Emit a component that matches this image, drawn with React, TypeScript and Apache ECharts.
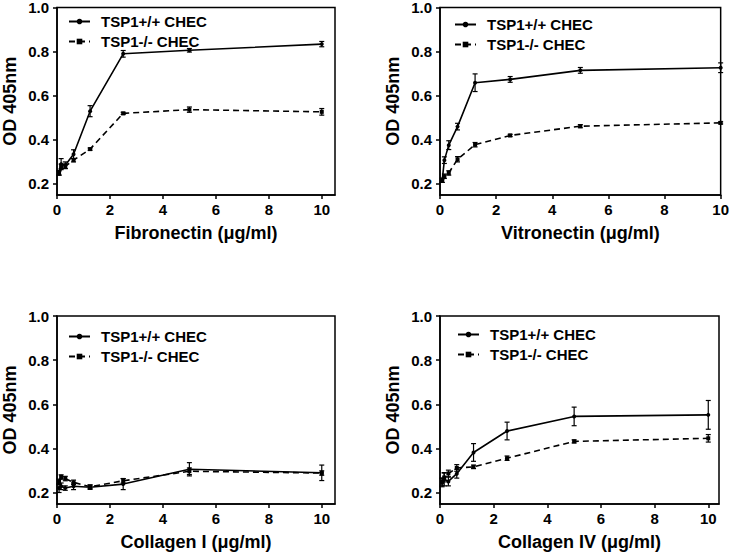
import React, { useEffect, useRef } from 'react';
import * as echarts from 'echarts';

const conc = [0.078, 0.156, 0.3125, 0.625, 1.25, 2.5, 5, 10];
const seriesNames = ['TSP1+/+ CHEC', 'TSP1-/- CHEC'];
const yTicks = [0.2, 0.4, 0.6, 0.8, 1.0];
const xTicks = [0, 2, 4, 6, 8, 10];
const xTitles = ['Fibronectin (μg/ml)', 'Vitronectin (μg/ml)', 'Collagen I (μg/ml)', 'Collagen IV (μg/ml)'];
const yTitle = 'OD 405nm';

const fnWT = [0.25, 0.29, 0.285, 0.335, 0.53, 0.79, 0.806, 0.834];
const fnWTErr = [0.01, 0.025, 0.015, 0.02, 0.025, 0.015, 0.008, 0.012];
const fnKO = [0.25, 0.28, 0.28, 0.308, 0.358, 0.52, 0.537, 0.527];
const fnKOErr = [0.01, 0.01, 0.01, 0.008, 0.005, 0.005, 0.012, 0.015];

const vnWT = [0.217, 0.308, 0.376, 0.46, 0.659, 0.674, 0.715, 0.727];
const vnWTErr = [0.01, 0.015, 0.02, 0.015, 0.04, 0.013, 0.013, 0.022];
const vnKO = [0.215, 0.235, 0.25, 0.312, 0.378, 0.42, 0.462, 0.477];
const vnKOErr = [0.008, 0.01, 0.01, 0.012, 0.01, 0.005, 0.007, 0.005];

const c1WT = [0.222, 0.23, 0.222, 0.23, 0.226, 0.24, 0.307, 0.291];
const c1WTErr = [0.02, 0.015, 0.01, 0.015, 0.01, 0.025, 0.03, 0.035];
const c1KO = [0.25, 0.272, 0.265, 0.248, 0.228, 0.255, 0.298, 0.29];
const c1KOErr = [0.012, 0.01, 0.01, 0.01, 0.008, 0.01, 0.015, 0.01];

const c4WT = [0.248, 0.262, 0.252, 0.287, 0.383, 0.48, 0.546, 0.553];
const c4WTErr = [0.02, 0.03, 0.02, 0.02, 0.04, 0.04, 0.042, 0.065];
const c4KO = [0.25, 0.27, 0.288, 0.313, 0.318, 0.357, 0.433, 0.447];
const c4KOErr = [0.015, 0.02, 0.015, 0.015, 0.008, 0.01, 0.007, 0.017];

const panelData = [
  { wt: fnWT, wtErr: fnWTErr, ko: fnKO, koErr: fnKOErr },
  { wt: vnWT, wtErr: vnWTErr, ko: vnKO, koErr: vnKOErr },
  { wt: c1WT, wtErr: c1WTErr, ko: c1KO, koErr: c1KOErr },
  { wt: c4WT, wtErr: c4WTErr, ko: c4KO, koErr: c4KOErr },
];

const layout = [
  { left: 54, top: 7, width: 281, height: 188, xMax: 10.5, legLeft: 68, legTop: 14 },
  { left: 440, top: 7, width: 281, height: 188, xMax: 10, legLeft: 454, legTop: 17 },
  { left: 54, top: 316, width: 281, height: 188, xMax: 10.5, legLeft: 68, legTop: 329 },
  { left: 440, top: 316, width: 279, height: 188, xMax: 10.4, legLeft: 457, legTop: 327 },
];

const FONT = '"Liberation Sans", Arial, Helvetica, sans-serif';

function errRender(params: any, api: any) {
  const x = api.value(0);
  const lo = api.coord([x, api.value(1)]);
  const hi = api.coord([x, api.value(2)]);
  const w = 2.5;
  const style = { stroke: '#000', lineWidth: 1.2 };
  return {
    type: 'group',
    children: [
      { type: 'line', shape: { x1: lo[0], y1: lo[1], x2: hi[0], y2: hi[1] }, style },
      { type: 'line', shape: { x1: lo[0] - w, y1: lo[1], x2: lo[0] + w, y2: lo[1] }, style },
      { type: 'line', shape: { x1: hi[0] - w, y1: hi[1], x2: hi[0] + w, y2: hi[1] }, style },
    ],
  };
}

export default function App() {
  const ref = useRef<HTMLDivElement>(null);
  useEffect(() => {
    if (!ref.current) return;
    const chart = echarts.init(ref.current, undefined, { renderer: 'svg' });
    const grid: any[] = [];
    const xAxis: any[] = [];
    const yAxis: any[] = [];
    const legend: any[] = [];
    const series: any[] = [];
    layout.forEach((L, i) => {
      grid.push({
        left: L.left, top: L.top, width: L.width, height: L.height,
        show: true, borderColor: '#000', borderWidth: 1.5, backgroundColor: 'transparent',
      });
      xAxis.push({
        type: 'value', gridIndex: i, min: 0, max: L.xMax,
        name: xTitles[i], nameLocation: 'middle', nameGap: 29,
        nameTextStyle: { fontSize: 18, fontWeight: 'bold', color: '#000', fontFamily: FONT },
        axisLine: { show: true, lineStyle: { color: '#000', width: 1.5 } },
        axisTick: { show: true, length: 4, customValues: xTicks, lineStyle: { color: '#000', width: 1.5 } },
        axisLabel: { customValues: xTicks, margin: 7, fontSize: 15, fontWeight: 'bold', color: '#000', fontFamily: FONT },
        splitLine: { show: false },
      });
      yAxis.push({
        type: 'value', gridIndex: i, min: 0.15, max: 1.0,
        name: yTitle, nameLocation: 'middle', nameGap: 38,
        nameTextStyle: { fontSize: 18, fontWeight: 'bold', color: '#000', fontFamily: FONT },
        axisLine: { show: true, lineStyle: { color: '#000', width: 1.5 } },
        axisTick: { show: true, length: 4, customValues: yTicks, lineStyle: { color: '#000', width: 1.5 } },
        axisLabel: {
          customValues: yTicks, margin: 8, fontSize: 15, fontWeight: 'bold', color: '#000', fontFamily: FONT,
          formatter: (v: number) => v.toFixed(1),
        },
        splitLine: { show: false },
      });
      legend.push({
        left: L.legLeft, top: L.legTop, orient: 'vertical', data: seriesNames, padding: 0,
        itemWidth: 21, itemHeight: 7, itemGap: 5,
        textStyle: { fontSize: 15, fontWeight: 'bold', color: '#000', fontFamily: FONT, padding: [0, 0, 0, 6] },
      });
      const d = panelData[i];
      series.push({
        name: seriesNames[0], type: 'line', xAxisIndex: i, yAxisIndex: i,
        data: conc.map((c, k) => [c, d.wt[k]]),
        symbol: 'circle', symbolSize: 4, showSymbol: true,
        lineStyle: { color: '#000', width: 1.6 }, itemStyle: { color: '#000' }, z: 3,
      });
      series.push({
        name: seriesNames[1], type: 'line', xAxisIndex: i, yAxisIndex: i,
        data: conc.map((c, k) => [c, d.ko[k]]),
        symbol: 'rect', symbolSize: 4, showSymbol: true,
        lineStyle: { color: '#000', width: 1.6, type: [6, 4] }, itemStyle: { color: '#000' }, z: 3,
      });
      series.push({
        name: 'err-wt-' + i, type: 'custom', xAxisIndex: i, yAxisIndex: i,
        renderItem: errRender, encode: { x: 0, y: [1, 2] },
        data: conc.map((c, k) => [c, d.wt[k] - d.wtErr[k], d.wt[k] + d.wtErr[k]]), z: 4,
      });
      series.push({
        name: 'err-ko-' + i, type: 'custom', xAxisIndex: i, yAxisIndex: i,
        renderItem: errRender, encode: { x: 0, y: [1, 2] },
        data: conc.map((c, k) => [c, d.ko[k] - d.koErr[k], d.ko[k] + d.koErr[k]]), z: 4,
      });
    });
    chart.setOption({
      animation: false,
      backgroundColor: '#fff',
      textStyle: { fontFamily: FONT },
      grid, xAxis, yAxis, legend, series,
    });
    return () => chart.dispose();
  }, []);
  return <div ref={ref} style={{ position: 'absolute', left: 0, top: 0, width: 732, height: 555 }} />;
}
